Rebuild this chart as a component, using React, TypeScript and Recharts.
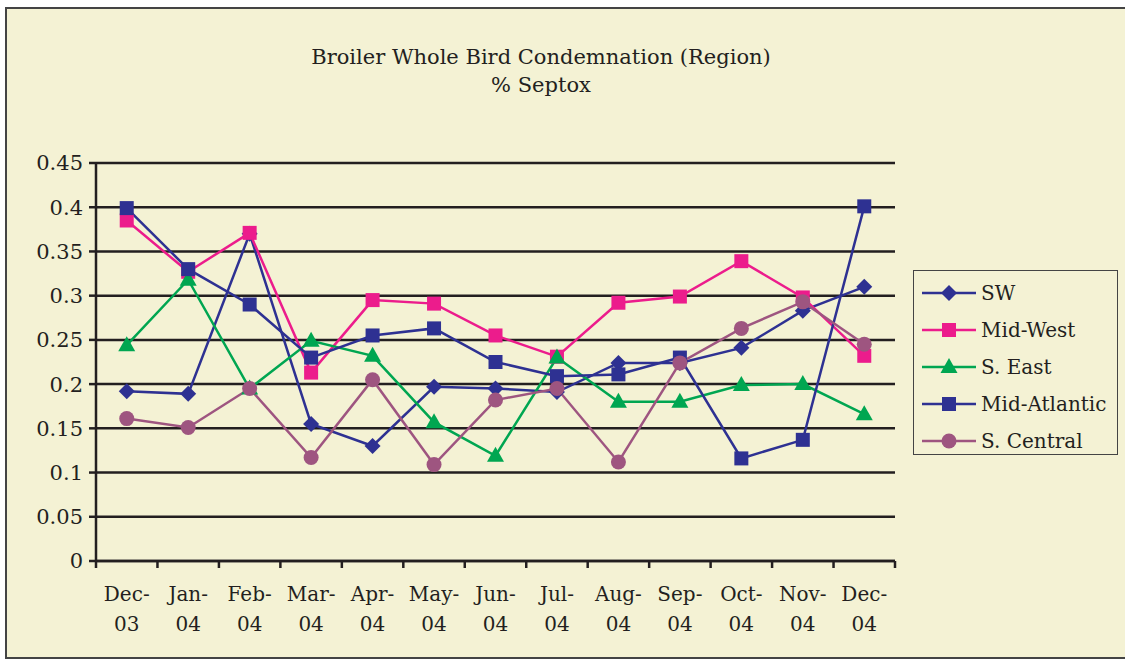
import React from 'react';
import { LineChart, Line, XAxis, YAxis, CartesianGrid } from 'recharts';

const months = ['Dec-03', 'Jan-04', 'Feb-04', 'Mar-04', 'Apr-04', 'May-04', 'Jun-04', 'Jul-04', 'Aug-04', 'Sep-04', 'Oct-04', 'Nov-04', 'Dec-04'];
const sw = [0.192, 0.189, 0.37, 0.155, 0.13, 0.197, 0.195, 0.191, 0.224, 0.224, 0.241, 0.283, 0.31];
const midWest = [0.385, 0.327, 0.371, 0.213, 0.295, 0.291, 0.255, 0.231, 0.292, 0.299, 0.339, 0.298, 0.232];
const sEast = [0.244, 0.318, 0.195, 0.249, 0.232, 0.157, 0.119, 0.23, 0.18, 0.18, 0.199, 0.2, 0.166];
const midAtlantic = [0.399, 0.33, 0.29, 0.23, 0.255, 0.263, 0.225, 0.209, 0.211, 0.23, 0.116, 0.137, 0.401];
const sCentral = [0.161, 0.151, 0.195, 0.117, 0.205, 0.109, 0.182, 0.195, 0.112, 0.224, 0.263, 0.293, 0.245];
const yTicks = [0, 0.05, 0.1, 0.15, 0.2, 0.25, 0.3, 0.35, 0.4, 0.45];

const series = [
    { key: 'sw', name: 'SW', color: '#2e3192', shape: 'diamond' },
    { key: 'midWest', name: 'Mid-West', color: '#ec1c8c', shape: 'square' },
    { key: 'sEast', name: 'S. East', color: '#00a651', shape: 'triangle' },
    { key: 'midAtlantic', name: 'Mid-Atlantic', color: '#2e3192', shape: 'square' },
    { key: 'sCentral', name: 'S. Central', color: '#9e5580', shape: 'circle' },
];

const data = months.map((m, i) => ({
    month: m,
    sw: sw[i],
    midWest: midWest[i],
    sEast: sEast[i],
    midAtlantic: midAtlantic[i],
    sCentral: sCentral[i],
}));

const FONT = '"DejaVu Serif", serif';
const INK = '#231f20';

const Marker = ({ cx, cy, shape, color }: any) => {
    if (cx == null || cy == null) return null;
    if (shape === 'diamond') {
        return <polygon points={`${cx},${cy - 8} ${cx + 8},${cy} ${cx},${cy + 8} ${cx - 8},${cy}`} fill={color} />;
    }
    if (shape === 'square') {
        return <rect x={cx - 7} y={cy - 7} width={14} height={14} fill={color} />;
    }
    if (shape === 'triangle') {
        return <polygon points={`${cx},${cy - 9} ${cx + 8.5},${cy + 6} ${cx - 8.5},${cy + 6}`} fill={color} />;
    }
    return <circle cx={cx} cy={cy} r={7.5} fill={color} />;
};

// plot spans x 96..895, 13 categories
const BAND = (895 - 96) / 13;

const MonthTick = ({ x, y, payload, index }: any) => {
    const [mon, yr] = String(payload.value).split('-');
    return (
        <g>
            <line x1={x - BAND / 2} y1={y - 8} x2={x - BAND / 2} y2={y - 1} stroke={INK} strokeWidth={2.5} />
            {index === months.length - 1 && (
                <line x1={x + BAND / 2} y1={y - 8} x2={x + BAND / 2} y2={y - 1} stroke={INK} strokeWidth={2.5} />
            )}
            <text x={x} y={y + 32} textAnchor="middle" fontSize={20} fontFamily={FONT} fill={INK}>{mon}-</text>
            <text x={x} y={y + 62} textAnchor="middle" fontSize={20} fontFamily={FONT} fill={INK}>{yr}</text>
        </g>
    );
};

const LegendBox = () => (
    <div style={{ position: 'absolute', left: 913, top: 270, width: 205, height: 185, border: '1.5px solid #444', boxSizing: 'border-box', padding: '3px 0 0 8px', fontFamily: FONT, fontSize: 20, color: INK, whiteSpace: 'nowrap' }}>
        {series.map(s => (
            <div key={s.key} style={{ display: 'flex', alignItems: 'center', height: 37 }}>
                <svg width={56} height={20} style={{ marginRight: 3 }}>
                    <line x1={0} y1={10} x2={54} y2={10} stroke={s.color} strokeWidth={2.5} />
                    <Marker cx={27} cy={10} shape={s.shape} color={s.color} />
                </svg>
                <span>{s.name}</span>
            </div>
        ))}
    </div>
);

export default function App() {
    return (
        <div style={{ position: 'absolute', left: 0, top: 0, width: 1125, height: 663, background: '#fff' }}>
            <div style={{ position: 'absolute', left: 5, top: 7, width: 1125, height: 652, background: '#f4f2d4', border: '2px solid #444', boxSizing: 'border-box' }} />
            <div style={{ position: 'absolute', left: 0, top: 43, width: 1082, textAlign: 'center', fontFamily: FONT, fontSize: 21, color: INK, lineHeight: '28px' }}>
                Broiler Whole Bird Condemnation (Region)<br />% Septox
            </div>
            <div style={{ position: 'absolute', left: 0, top: 0 }}>
                <LineChart width={1125} height={663} data={data} margin={{ top: 163, right: 230, bottom: 42, left: 36 }}>
                    <CartesianGrid vertical={false} stroke={INK} strokeWidth={2.5} strokeOpacity={1} />
                    <XAxis
                        dataKey="month"
                        height={60}
                        padding={{ left: BAND / 2, right: BAND / 2 }}
                        tickLine={false}
                        axisLine={{ stroke: INK, strokeWidth: 2.5 }}
                        tick={<MonthTick />}
                        interval={0}
                    />
                    <YAxis
                        domain={[0, 0.45]}
                        ticks={yTicks}
                        interval={0}
                        width={60}
                        tickSize={7}
                        tickLine={{ stroke: INK, strokeWidth: 2.5 }}
                        axisLine={{ stroke: INK, strokeWidth: 2.5 }}
                        tick={{ fontSize: 21, fontFamily: FONT, fill: INK, dx: -4 }}
                        tickFormatter={(v: number) => String(v)}
                    />
                    <YAxis
                        yAxisId="right"
                        orientation="right"
                        domain={[0, 0.45]}
                        width={0}
                        tick={false}
                        tickLine={false}
                        axisLine={{ stroke: INK, strokeWidth: 2.5 }}
                    />
                    {series.map(s => (
                        <Line
                            key={s.key}
                            dataKey={s.key}
                            name={s.name}
                            stroke={s.color}
                            strokeWidth={2.5}
                            dot={(p: any) => <Marker key={`${s.key}-${p.index}`} cx={p.cx} cy={p.cy} shape={s.shape} color={s.color} />}
                            activeDot={false}
                            isAnimationActive={false}
                        />
                    ))}
                </LineChart>
            </div>
            <LegendBox />
        </div>
    );
}
